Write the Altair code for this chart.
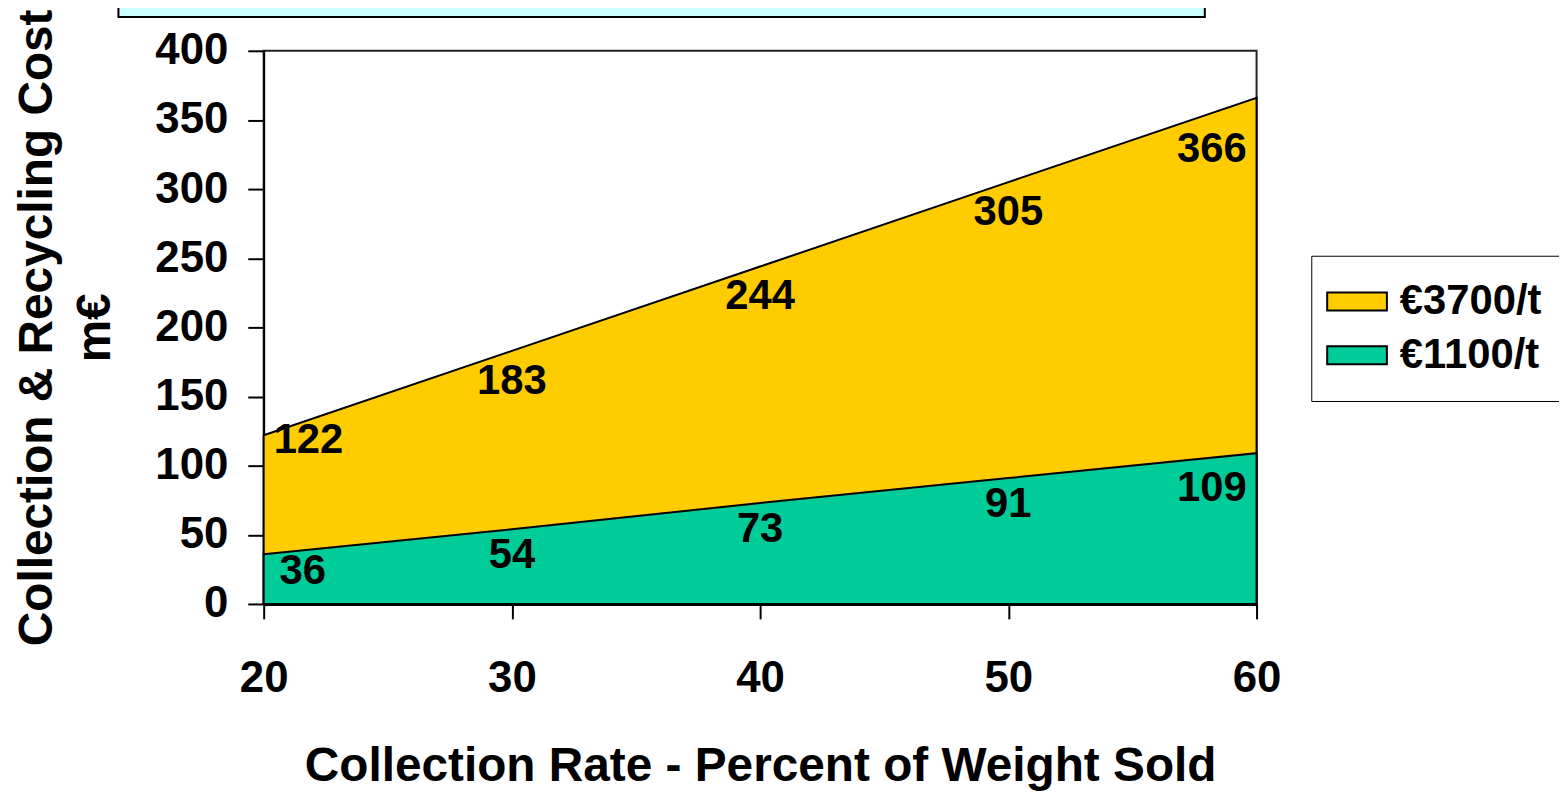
import altair as alt
import pandas as pd

rates = [20, 30, 40, 50, 60]
high_cost = [122, 183, 244, 305, 366]
low_cost = [36, 54, 73, 91, 109]
series_names = ["€3700/t", "€1100/t"]
colors = ["#FFCC00", "#00CC99"]
y_ticks = [0, 50, 100, 150, 200, 250, 300, 350, 400]

rows = []
for r, h, l in zip(rates, high_cost, low_cost):
    rows.append({"rate": r, "cost": h, "series": series_names[0]})
    rows.append({"rate": r, "cost": l, "series": series_names[1]})
df = pd.DataFrame(rows)

FONT = "Liberation Sans"

x_enc = alt.X("rate:Q", scale=alt.Scale(domain=[20, 60], nice=False),
              axis=alt.Axis(values=rates, title="Collection Rate - Percent of Weight Sold",
                            tickSize=15, labelPadding=38, labelFlush=False, titleY=177,
                            titleBaseline="alphabetic", domainWidth=3))
y_enc = alt.Y("cost:Q", scale=alt.Scale(domain=[0, 400], nice=False),
              axis=alt.Axis(values=y_ticks, title=["Collection & Recycling Cost", "m€"],
                            tickSize=16, labelPadding=20, labelFlush=False,
                            titleX=-213, titleY=278,
                            titleBaseline="alphabetic", titleLineHeight=58,
                            titleAngle=270, domainWidth=2))
color_enc = alt.Color("series:N", scale=alt.Scale(domain=series_names, range=colors),
                      legend=alt.Legend(title=None, orient="none", legendX=1053, legendY=206,
                                        symbolType="M-1.5,-0.45H1.5V0.45H-1.5Z", symbolSize=1600,
                                        symbolStrokeColor="black", symbolStrokeWidth=2,
                                        labelFont=FONT, labelFontWeight="bold", labelFontSize=42,
                                        labelColor="black", labelOffset=22, rowPadding=12,
                                        padding=25, strokeColor="black", fillColor="white",
                                        labelLimit=400))

def area(name):
    return alt.Chart(df).transform_filter(alt.datum.series == name).mark_area(
        stroke="black", strokeWidth=2, opacity=1
    ).encode(x=x_enc, y=y_enc, color=color_enc)

def labels(name, test, align, dx, dy):
    return alt.Chart(df).transform_filter(
        (alt.datum.series == name) & test
    ).mark_text(font=FONT, fontWeight="bold", fontSize=42, color="black",
                align=align, baseline="middle", dx=dx, dy=dy).encode(
        x="rate:Q", y="cost:Q", text="cost:Q")

first = alt.datum.rate == 20
last = alt.datum.rate == 60
middle = (alt.datum.rate > 20) & (alt.datum.rate < 60)

box = alt.Chart(pd.DataFrame({"a": [0]})).mark_rect(
    fill="#CCFFFF", stroke="black", strokeWidth=2
).encode(x=alt.value(-146), x2=alt.value(946), y=alt.value(-100), y2=alt.value(-34))

chart = alt.layer(
    box,
    area(series_names[0]),
    area(series_names[1]),
    labels(series_names[0], first, "left", 10, 5),
    labels(series_names[0], middle, "center", 0, 30),
    labels(series_names[0], last, "right", -10, 52),
    labels(series_names[1], first, "left", 16, 17),
    labels(series_names[1], middle, "center", 0, 26),
    labels(series_names[1], last, "right", -10, 35),
).properties(
    width=998, height=556,
    autosize=alt.AutoSizeParams(type="none"),
    padding={"left": 257, "top": 41, "right": 304, "bottom": 187},
).configure_view(
    stroke="#222", strokeWidth=2
).configure_axis(
    labelFont=FONT, labelFontWeight="bold", labelFontSize=44, labelColor="black",
    titleFont=FONT, titleFontWeight="bold", titleFontSize=48, titleColor="black",
    domainColor="black", tickColor="black", tickWidth=2, grid=False,
)

chart.save("out.html", embed_options={"renderer": "svg", "actions": False})
